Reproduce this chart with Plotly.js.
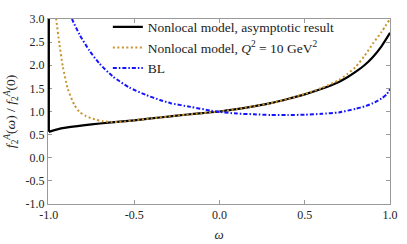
<!DOCTYPE html>
<html><head><meta charset="utf-8">
<script src="https://cdn.plot.ly/plotly-3.0.1.min.js"></script>
<style>html,body{margin:0;padding:0;background:#fff}#plot{width:407px;height:244px}</style>
</head><body><div id="plot"></div>
<script>
const omegaAsym = [-1, -0.95, -0.9, -0.8, -0.7, -0.6, -0.5, -0.4, -0.3, -0.2, -0.1, 0, 0.1, 0.2, 0.3, 0.4, 0.5, 0.6, 0.7, 0.75, 0.8, 0.85, 0.9, 0.95, 1.0];
const fAsym =     [0.56, 0.615, 0.65, 0.70, 0.74, 0.775, 0.81, 0.85, 0.89, 0.93, 0.965, 1.0, 1.05, 1.11, 1.18, 1.27, 1.37, 1.49, 1.64, 1.74, 1.86, 2.0, 2.18, 2.41, 2.7];
// endpoint divergence of the asymptotic curve at omega = -1
const omegaAsymEdge = [-1, -1];
const fAsymEdge =     [3.0, 0.56];

const omegaQ2 = [-0.965, -0.957, -0.938, -0.918, -0.889, -0.85, -0.82, -0.782, -0.73, -0.685, -0.63, -0.588, -0.55, -0.5, -0.4, -0.3, -0.2, -0.1, 0, 0.1, 0.2, 0.3, 0.4, 0.5, 0.6, 0.7, 0.75, 0.8, 0.85, 0.9, 0.95, 1.0];
const fQ2 =     [3.3, 3.0, 2.46, 1.97, 1.49, 1.14, 0.99, 0.90, 0.83, 0.79, 0.775, 0.775, 0.785, 0.81, 0.85, 0.89, 0.93, 0.965, 1.0, 1.05, 1.11, 1.18, 1.27, 1.38, 1.51, 1.68, 1.81, 1.97, 2.2, 2.47, 2.72, 3.0];

const omegaBL = [-0.88, -0.864, -0.821, -0.763, -0.704, -0.626, -0.529, -0.432, -0.35, -0.286, -0.169, -0.052, 0, 0.104, 0.2, 0.3, 0.4, 0.5, 0.6, 0.7, 0.8, 0.85, 0.9, 0.95, 0.98, 1.0];
const fBL =     [3.2, 3.0, 2.67, 2.32, 2.04, 1.76, 1.52, 1.36, 1.25, 1.18, 1.10, 1.02, 0.99, 0.955, 0.94, 0.925, 0.925, 0.93, 0.95, 0.98, 1.06, 1.11, 1.18, 1.28, 1.37, 1.48];

const xTicks = [-1, -0.5, 0, 0.5, 1];
const xTickText = ["-1.0", "-0.5", "0.0", "0.5", "1.0"];
const yTicks = [-1, -0.5, 0, 0.5, 1, 1.5, 2, 2.5, 3];
const yTickText = ["-1.0", "-0.5", "0.0", "0.5", "1.0", "1.5", "2.0", "2.5", "3.0"];

const names = ["Nonlocal model, asymptotic result", "Nonlocal model, <i>Q</i><sup>2</sup> = 10 GeV<sup>2</sup>", "BL"];

const FONT = "Liberation Serif";

const traces = [
  {x: omegaAsym, y: fAsym, name: names[0], legendgroup: "asym", mode: "lines", line: {color: "#000000", width: 2.2, shape: "spline", smoothing: 0.5}},
  {x: omegaAsymEdge, y: fAsymEdge, legendgroup: "asym", showlegend: false, mode: "lines", line: {color: "#000000", width: 2.2}},
  {x: omegaQ2, y: fQ2, name: names[1], mode: "lines", line: {color: "#c8952c", width: 2, dash: "2px,2.5px", shape: "spline", smoothing: 0.6}},
  {x: omegaBL, y: fBL, name: names[2], mode: "lines", line: {color: "#1414ff", width: 2, dash: "4px,2px,1.5px,2px", shape: "spline", smoothing: 0.6}}
];

const axisCommon = {
  showgrid: false, zeroline: false, showline: true, linecolor: "#9a9a9a", linewidth: 1,
  mirror: "ticks", ticks: "inside", ticklen: 4, tickcolor: "#9a9a9a", tickwidth: 1,
  layer: "below traces",
  tickfont: {family: FONT, size: 12, color: "#222"}
};

const layout = {
  width: 407, height: 244,
  margin: {l: 48, r: 17, t: 12, b: 40},
  paper_bgcolor: "#fff", plot_bgcolor: "#fff",
  font: {family: FONT, size: 13, color: "#222"},
  showlegend: true,
  legend: {x: 0.175, y: 1.04, xanchor: "left", yanchor: "top", bgcolor: "rgba(0,0,0,0)", borderwidth: 0,
           font: {family: FONT, size: 13.5, color: "#222"}, tracegroupgap: 0},
  xaxis: Object.assign({}, axisCommon, {range: [-1.005, 1], tickvals: xTicks, ticktext: xTickText,
          title: {text: "<i>ω</i>", font: {family: FONT, size: 13}, standoff: 8}}),
  yaxis: Object.assign({}, axisCommon, {range: [-1, 3], tickvals: yTicks, ticktext: yTickText,
          title: {text: "<i>f</i><sub>2</sub><sup><i>A</i></sup>(<i>ω</i>) / <i>f</i><sub>2</sub><sup><i>A</i></sup>(0)", font: {family: FONT, size: 13.5}, standoff: 6}})
};

Plotly.newPlot("plot", traces, layout, {staticPlot: true, displayModeBar: false});
</script>
</body></html>
